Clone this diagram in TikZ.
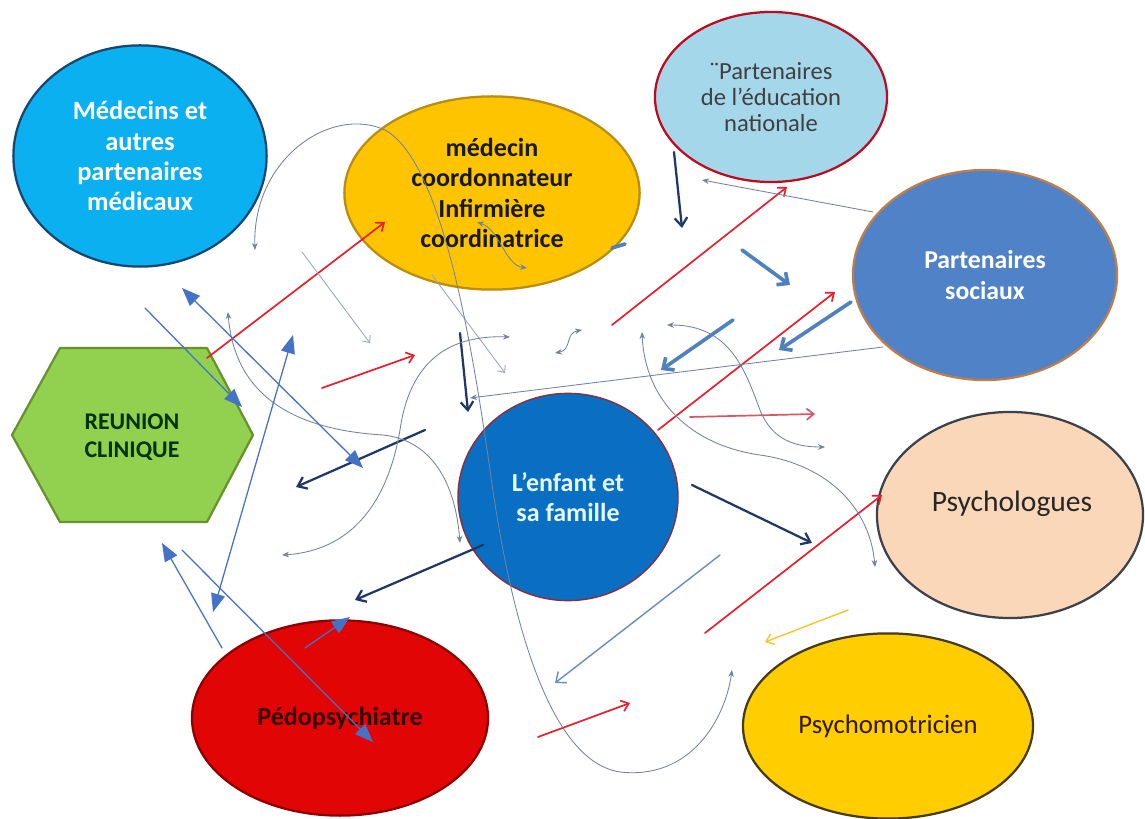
\documentclass[tikz,border=0pt]{standalone}
\usepackage{fontspec}
\setmainfont{Carlito}
\usetikzlibrary{shapes.geometric,arrows.meta,calc,positioning}

\definecolor{rouge}{RGB}{232,30,45}
\definecolor{rose}{RGB}{215,85,100}
\definecolor{marine}{RGB}{31,56,100}
\definecolor{acier}{RGB}{79,129,189}
\definecolor{grisbleu}{RGB}{115,130,158}
\definecolor{grisclair}{RGB}{150,165,190}
\definecolor{office}{RGB}{68,114,196}
\definecolor{bleumoyen}{RGB}{105,140,195}
\definecolor{orfleche}{RGB}{250,195,40}

\definecolor{cielmed}{RGB}{10,176,240}
\definecolor{bordmed}{RGB}{25,70,110}
\definecolor{orcoord}{RGB}{255,196,0}
\definecolor{bordcoord}{RGB}{185,140,20}
\definecolor{bleuclair}{RGB}{165,215,235}
\definecolor{bordeduc}{RGB}{190,10,30}
\definecolor{bleusoc}{RGB}{80,130,200}
\definecolor{bordsoc}{RGB}{190,125,75}
\definecolor{vertreun}{RGB}{146,208,80}
\definecolor{bordreun}{RGB}{105,145,45}
\definecolor{bleuenf}{RGB}{10,110,195}
\definecolor{bordenf}{RGB}{140,45,60}
\definecolor{peche}{RGB}{251,215,185}
\definecolor{bordpsy}{RGB}{60,65,75}
\definecolor{jaunepsm}{RGB}{255,205,0}
\definecolor{bordpsm}{RGB}{70,60,25}
\definecolor{rougeped}{RGB}{225,5,5}
\definecolor{bordped}{RGB}{140,0,0}

\begin{document}
\begin{tikzpicture}[x=0.025cm,y=-0.025cm,line join=round,line cap=round,
  bulle/.style={ellipse,draw,line width=1.6pt,align=center,inner sep=0pt},
  fr/.style={rouge,line width=1.2pt,-{Straight Barb[length=5pt,width=8pt]}},
  fm/.style={marine,line width=1.6pt,-{Straight Barb[length=6pt,width=9pt]}},
  fa/.style={acier,line width=2.6pt,-{Straight Barb[length=6pt,width=11pt]}},
  fg/.style={grisbleu,line width=0.6pt,{Stealth[length=5pt,width=4pt]}-{Stealth[length=5pt,width=4pt]}},
  fo/.style={office,line width=0.9pt,-{Triangle[length=13pt,width=10pt]}},
  fod/.style={office,line width=0.9pt,{Triangle[length=13pt,width=10pt]}-{Triangle[length=13pt,width=10pt]}}]
  \useasboundingbox[fill=white] (0,0) rectangle (1145,819);

  % les partenaires
  \node[bulle,fill=cielmed,draw=bordmed,minimum width=6.33cm,minimum height=5.53cm,text=white,
    font=\bfseries\fontsize{18.8}{21.5}\selectfont] (medecins) at (140,156) {Médecins et\\autres\\partenaires\\médicaux};
  \node[bulle,fill=orcoord,draw=bordcoord,minimum width=7.38cm,minimum height=4.83cm,text=black!90,
    font=\bfseries\fontsize{18.5}{21.5}\selectfont] (coord) at (492,193) {médecin\\coordonnateur\\Infirmière\\coordinatrice};
  \node[bulle,fill=bleuclair,draw=bordeduc,minimum width=5.8cm,minimum height=4.25cm,text=black!75,
    font=\fontsize{17.5}{18.5}\selectfont] (educ) at (771,97) {¨Partenaires\\de l’éducation\\nationale};
  \node[bulle,fill=bleusoc,draw=bordsoc,minimum width=6.6cm,minimum height=5.25cm,text=white,
    font=\bfseries\fontsize{18.3}{22.5}\selectfont] (social) at (985,275) {Partenaires\\sociaux};
  \node[bulle,fill=bleuenf,draw=bordenf,line width=1pt,minimum width=5.5cm,minimum height=5.18cm,text=white!90!cyan,
    font=\bfseries\fontsize{18.5}{21.5}\selectfont] (enfant) at (568,497) {L’enfant et\\sa famille};
  \node[bulle,fill=peche,draw=bordpsy,minimum width=6.65cm,minimum height=5.15cm] (psycho) at (1010,515) {};
  \node[text=black!85,font=\fontsize{21}{24}\selectfont] (psycholab) at (1012,504) {Psychologues};
  \node[bulle,fill=jaunepsm,draw=bordpsm,minimum width=7.25cm,minimum height=4.63cm,text=black!80!orange,
    font=\fontsize{19}{22}\selectfont] (psychomot) at (888,726) {Psychomotricien};
  \node[bulle,fill=rougeped,draw=bordped,minimum width=7.4cm,minimum height=4.88cm,text=black!80!red,
    font=\bfseries\fontsize{18.5}{22}\selectfont] (pedo) at (340,718) {Pédopsychiatre};

  % la reunion clinique
  \coordinate (H1) at (12,435);
  \coordinate (H2) at (60,348);
  \coordinate (H3) at (207,348);
  \coordinate (H4) at (253,435);
  \coordinate (H5) at (207,522);
  \coordinate (H6) at (60,522);
  \draw[fill=vertreun,draw=bordreun,line width=1.6pt] (H1)--(H2)--(H3)--(H4)--(H5)--(H6)--cycle;
  \node[align=center,text=black!80!green,font=\bfseries\fontsize{17}{19.5}\selectfont] (reunion) at (132,437) {REUNION\\CLINIQUE};

  % fleches rouges
  \coordinate (R1) at (207,358);
  \coordinate (R1b) at (385,222);
  \coordinate (R2) at (322,388);
  \coordinate (R2b) at (415,355);
  \coordinate (R3) at (612,325);
  \coordinate (R3b) at (787,187);
  \coordinate (R4) at (658,430);
  \coordinate (R4b) at (835,292);
  \coordinate (R5) at (690,417);
  \coordinate (R5b) at (815,414);
  \coordinate (R6) at (705,633);
  \coordinate (R6b) at (882,495);
  \coordinate (R7) at (538,737);
  \coordinate (R7b) at (630,703);
  \draw[fr] (R1)--(R1b);
  \draw[fr] (R2)--(R2b);
  \draw[fr] (R3)--(R3b);
  \draw[fr] (R4)--(R4b);
  \draw[fr,rose] (R5)--(R5b);
  \draw[fr] (R6)--(R6b);
  \draw[fr] (R7)--(R7b);
  \coordinate (Y1) at (848,610);
  \coordinate (Y1b) at (765,642);
  \draw[fr,orfleche,line width=1pt] (Y1)--(Y1b);

  % fleches marine
  \coordinate (M1) at (674,152);
  \coordinate (M1b) at (682,228);
  \coordinate (M2) at (460,333);
  \coordinate (M2b) at (468,412);
  \coordinate (M3) at (425,430);
  \coordinate (M3b) at (296,487);
  \coordinate (M4) at (483,545);
  \coordinate (M4b) at (355,600);
  \coordinate (M5) at (692,485);
  \coordinate (M5b) at (812,543);
  \foreach \i in {M1,M2,M3,M4,M5}{\draw[fm] (\i)--(\i b);}

  % fleches bleu acier
  \coordinate (S1) at (742,250);
  \coordinate (S1b) at (790,285);
  \coordinate (S2) at (733,320);
  \coordinate (S2b) at (661,370);
  \coordinate (S3) at (851,302);
  \coordinate (S3b) at (779,350);
  \foreach \i in {S1,S2,S3}{\draw[fa] (\i)--(\i b);}
  \coordinate (S4) at (612,248);
  \coordinate (S4b) at (625,244);
  \draw[acier,line width=2.6pt] (S4)--(S4b);
  \coordinate (B1) at (720,555);
  \coordinate (B1b) at (555,683);
  \draw[bleumoyen,line width=1pt,-{Straight Barb[length=6pt,width=10pt]}] (B1)--(B1b);

  % fleches grises
  \coordinate (G1) at (302,252);
  \coordinate (G1b) at (370,343);
  \coordinate (G2) at (873,212);
  \coordinate (G2b) at (702,180);
  \coordinate (G3) at (883,347);
  \coordinate (G3b) at (470,398);
  \coordinate (G5) at (432,275);
  \coordinate (G5b) at (505,373);
  \draw[grisclair,line width=0.6pt,-{Straight Barb[length=4pt,width=7pt]}] (G1)--(G1b);
  \draw[fg,-{Stealth[length=5pt,width=4pt]}] (G2)--(G2b);
  \draw[fg,-{Stealth[length=5pt,width=4pt]}] (G3)--(G3b);
  \draw[fg,grisclair,-{Straight Barb[length=4pt,width=7pt]}] (G5)--(G5b);
  \coordinate (G4) at (255,250);
  \coordinate (G4b) at (732,670);
  \draw[fg] (G4) .. controls (252,160) and (330,105) .. (385,130)
    .. controls (440,160) and (470,330) .. (490,470)
    .. controls (505,580) and (540,760) .. (620,772)
    .. controls (690,780) and (725,720) .. (G4b);
  \coordinate (G6) at (228,312);
  \coordinate (G6b) at (460,543);
  \draw[fg] (G6) .. controls (235,400) and (300,430) .. (383,435) .. controls (430,440) and (455,480) .. (G6b);
  \coordinate (G7) at (282,555);
  \coordinate (G7b) at (510,337);
  \draw[fg] (G7) .. controls (360,550) and (390,490) .. (400,430) .. controls (410,360) and (450,335) .. (G7b);
  \coordinate (G8) at (555,353);
  \coordinate (G8b) at (582,330);
  \draw[fg] (G8) .. controls (572,350) and (565,333) .. (G8b);
  \coordinate (G9) at (477,222);
  \coordinate (G9b) at (527,268);
  \draw[fg] (G9) .. controls (500,230) and (505,265) .. (G9b);
  \coordinate (G10) at (667,325);
  \coordinate (G10b) at (825,447);
  \draw[fg] (G10) .. controls (730,325) and (745,370) .. (760,410) .. controls (772,440) and (795,447) .. (G10b);
  \coordinate (G11) at (642,332);
  \coordinate (G11b) at (875,567);
  \draw[fg] (G11) .. controls (645,400) and (690,445) .. (760,455) .. controls (830,465) and (870,510) .. (G11b);

  % fleches bleues
  \coordinate (O1) at (145,308);
  \coordinate (O1b) at (242,407);
  \coordinate (O2) at (182,288);
  \coordinate (O2b) at (363,468);
  \coordinate (O3) at (213,612);
  \coordinate (O3b) at (293,335);
  \coordinate (O4) at (222,648);
  \coordinate (O4b) at (162,543);
  \coordinate (O5) at (182,550);
  \coordinate (O5b) at (373,742);
  \coordinate (O6) at (305,648);
  \coordinate (O6b) at (350,617);
  \draw[fo] (O1)--(O1b);
  \draw[fod] (O2)--(O2b);
  \draw[fod] (O3)--(O3b);
  \draw[fo] (O4)--(O4b);
  \draw[fo] (O5)--(O5b);
  \draw[fo] (O6)--(O6b);
\end{tikzpicture}
\end{document}
